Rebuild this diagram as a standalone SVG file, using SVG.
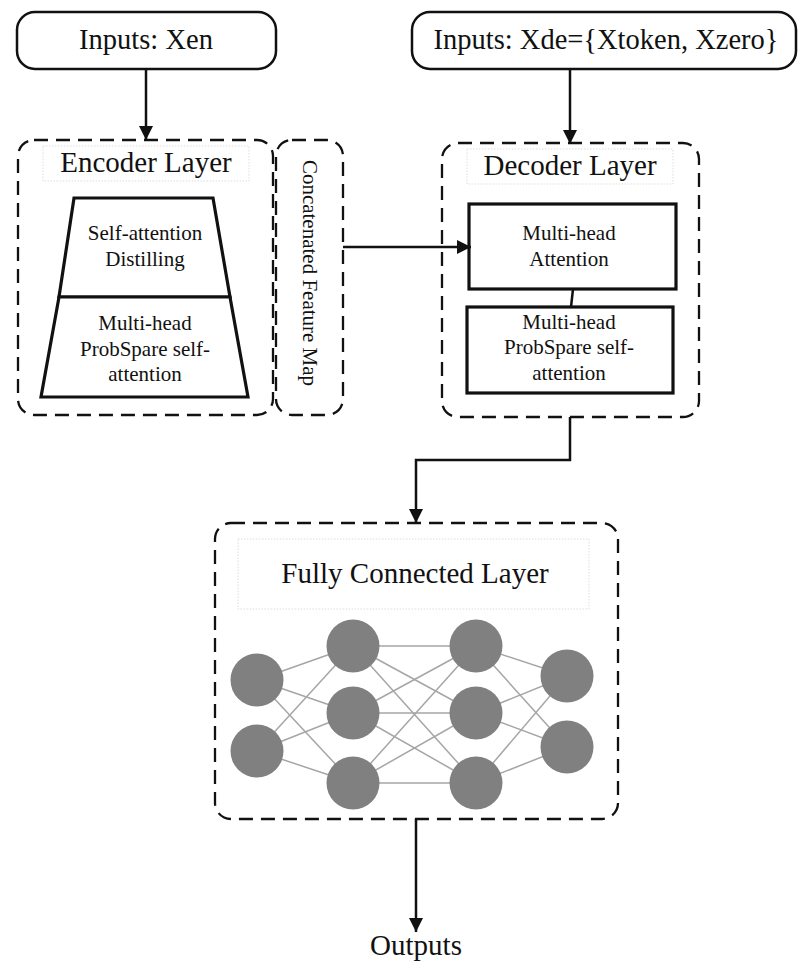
<svg xmlns="http://www.w3.org/2000/svg" width="798" height="962" viewBox="0 0 798 962">
<style>
text{fill:#111;text-anchor:middle}
.t28{font-size:28.5px}
.t29{font-size:29px}
.t21{font-size:21px}
.solid{fill:#fff;stroke:#111;stroke-width:2.5}
.thick{fill:#fff;stroke:#111;stroke-width:3.2}
.dash{fill:none;stroke:#111;stroke-width:2.3;stroke-dasharray:14 8}
.title{fill:none;stroke:#ddd;stroke-width:1;stroke-dasharray:1.5 1.5}
.conn{fill:none;stroke:#111;stroke-width:2.5}
.nn line{stroke:#a6a6a6;stroke-width:1.5}
.nn circle{fill:#808080}
</style>
<defs>
<marker id="arr" markerUnits="userSpaceOnUse" markerWidth="14" markerHeight="14" viewBox="0 0 14 14" refX="14" refY="7" orient="auto">
<path d="M0,0 L14,7 L0,14 z" fill="#111"/>
</marker>
</defs>
<g id="inputs-xen">
<rect class="solid" x="17" y="12" width="259" height="57" rx="18"/>
<text font-family="Liberation Serif" class="t28" x="146" y="49">Inputs: Xen</text>
</g>

<g id="inputs-xde">
<rect class="solid" x="412" y="12" width="384" height="57" rx="18"/>
<text font-family="Liberation Serif" class="t28" x="606" y="49">Inputs: Xde={Xtoken, Xzero}</text>
</g>

<g id="encoder">
<rect class="dash" x="18" y="140" width="255" height="275" rx="16"/>
<rect class="title" x="43" y="146" width="206" height="35"/>
<text font-family="Liberation Serif" class="t29" x="146" y="172">Encoder Layer</text>
<path class="thick" d="M74,198 L213,198 L230,297 L59,297 Z"/>
<path class="thick" d="M59,297 L230,297 L248,397 L41,397 Z"/>
<text font-family="Liberation Serif" class="t21" x="145" y="240">Self-attention</text>
<text font-family="Liberation Serif" class="t21" x="145" y="266">Distilling</text>
<text font-family="Liberation Serif" class="t21" x="145" y="330">Multi-head</text>
<text font-family="Liberation Serif" class="t21" x="145" y="356">ProbSpare self-</text>
<text font-family="Liberation Serif" class="t21" x="145" y="381">attention</text>
</g>

<g id="concat">
<rect class="dash" x="276" y="140" width="67" height="275" rx="16"/>
<text font-family="Liberation Serif" class="t21" transform="translate(303,273) rotate(90)">Concatenated Feature Map</text>
</g>

<g id="decoder">
<rect class="dash" x="442" y="143" width="257" height="274" rx="16"/>
<rect class="title" x="467" y="149" width="206" height="35"/>
<text font-family="Liberation Serif" class="t29" x="570" y="175">Decoder Layer</text>
<rect class="thick" x="469" y="204" width="207" height="85"/>
<text font-family="Liberation Serif" class="t21" x="569" y="240">Multi-head</text>
<text font-family="Liberation Serif" class="t21" x="569" y="266">Attention</text>
<rect class="thick" x="467" y="307" width="206" height="86"/>
<text font-family="Liberation Serif" class="t21" x="569" y="329">Multi-head</text>
<text font-family="Liberation Serif" class="t21" x="569" y="354">ProbSpare self-</text>
<text font-family="Liberation Serif" class="t21" x="569" y="380">attention</text>
</g>

<g id="fc-layer">
<rect class="dash" x="215" y="523" width="403" height="296" rx="16"/>
<rect class="title" x="238" y="539" width="351" height="70"/>
<text font-family="Liberation Serif" class="t29" x="415" y="583">Fully Connected Layer</text>
<g class="nn">
<line x1="257" y1="680" x2="353" y2="646"/><line x1="257" y1="680" x2="353" y2="713"/><line x1="257" y1="680" x2="353" y2="783"/>
<line x1="257" y1="751" x2="353" y2="646"/><line x1="257" y1="751" x2="353" y2="713"/><line x1="257" y1="751" x2="353" y2="783"/>
<line x1="353" y1="646" x2="476" y2="646"/><line x1="353" y1="646" x2="476" y2="713"/><line x1="353" y1="646" x2="476" y2="783"/>
<line x1="353" y1="713" x2="476" y2="646"/><line x1="353" y1="713" x2="476" y2="713"/><line x1="353" y1="713" x2="476" y2="783"/>
<line x1="353" y1="783" x2="476" y2="646"/><line x1="353" y1="783" x2="476" y2="713"/><line x1="353" y1="783" x2="476" y2="783"/>
<line x1="476" y1="646" x2="567" y2="676"/><line x1="476" y1="646" x2="567" y2="747"/>
<line x1="476" y1="713" x2="567" y2="676"/><line x1="476" y1="713" x2="567" y2="747"/>
<line x1="476" y1="783" x2="567" y2="676"/><line x1="476" y1="783" x2="567" y2="747"/>
<circle cx="257" cy="680" r="26.5"/><circle cx="257" cy="751" r="26.5"/>
<circle cx="353" cy="646" r="26.5"/><circle cx="353" cy="713" r="26.5"/><circle cx="353" cy="783" r="26.5"/>
<circle cx="476" cy="646" r="26.5"/><circle cx="476" cy="713" r="26.5"/><circle cx="476" cy="783" r="26.5"/>
<circle cx="567" cy="676" r="26.5"/><circle cx="567" cy="747" r="26.5"/>
</g>
</g>

<g id="outputs">
<text font-family="Liberation Serif" class="t29" x="416" y="955">Outputs</text>
</g>

<g id="connectors">
<line class="conn" x1="146" y1="69" x2="146" y2="140" marker-end="url(#arr)"/>
<line class="conn" x1="570" y1="69" x2="570" y2="144" marker-end="url(#arr)"/>
<line class="conn" x1="343" y1="247" x2="471" y2="247" marker-end="url(#arr)"/>
<line class="conn" x1="573" y1="289" x2="571" y2="307"/>
<path class="conn" d="M570,417 V460 H416 V523" marker-end="url(#arr)"/>
<line class="conn" x1="416" y1="819" x2="416" y2="932" marker-end="url(#arr)"/>
</g>
</svg>
